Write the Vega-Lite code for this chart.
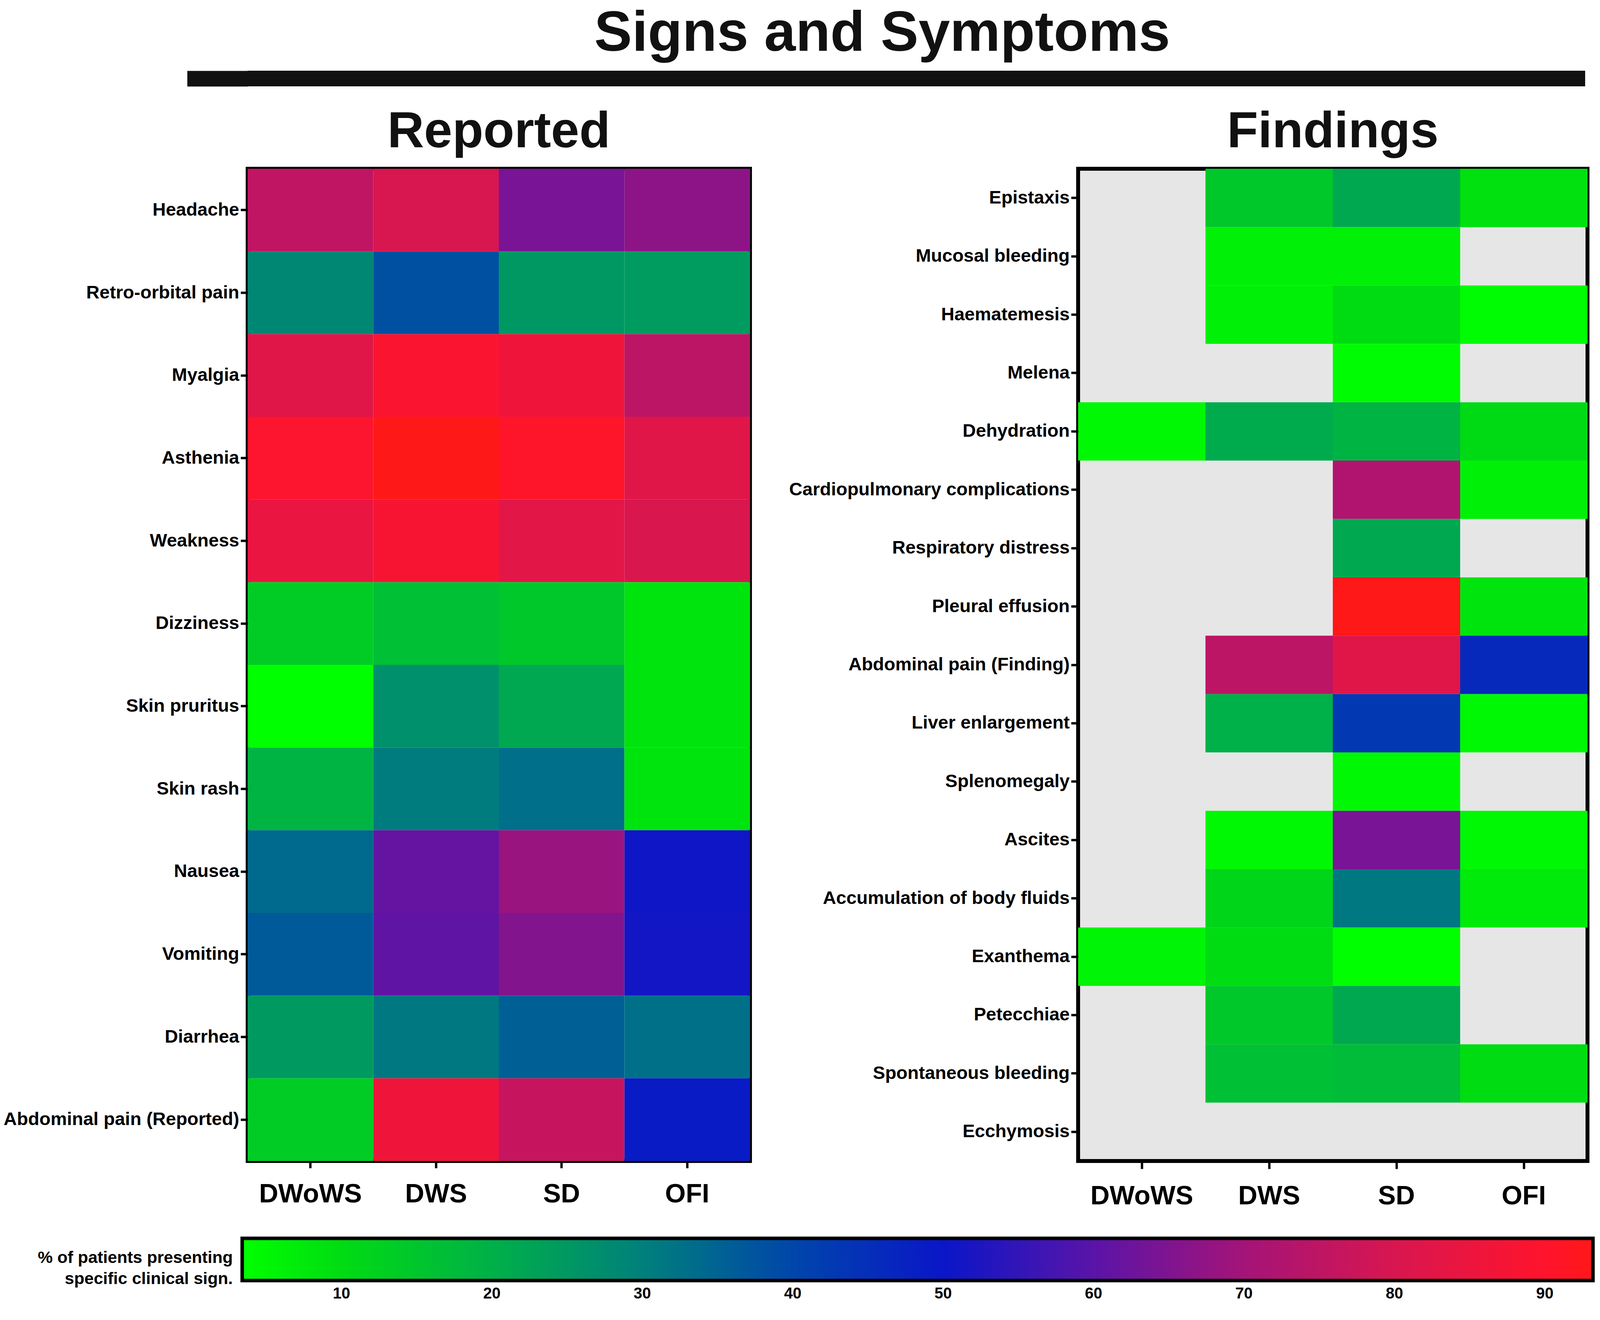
{
  "$schema": "https://vega.github.io/schema/vega-lite/v6.json",
  "padding": {"left": 3, "top": 14, "right": 5, "bottom": 5},
  "background": "white",
  "config": {
    "font": "Liberation Sans",
    "view": {"stroke": "black", "strokeWidth": 10},
    "axis": {"labelFont": "Liberation Sans", "labelFontWeight": "bold", "labelColor": "black", "tickColor": "black", "tickWidth": 6, "domain": false, "grid": false, "title": null, "labelLimit": 2000}
  },
  "datasets": {
    "reported": [
      {"sign": "Headache", "group": "DWoWS", "value": 75.4},
      {"sign": "Headache", "group": "DWS", "value": 80},
      {"sign": "Headache", "group": "SD", "value": 64},
      {"sign": "Headache", "group": "OFI", "value": 66.8},
      {"sign": "Retro-orbital pain", "group": "DWoWS", "value": 28.5},
      {"sign": "Retro-orbital pain", "group": "DWS", "value": 38.3},
      {"sign": "Retro-orbital pain", "group": "SD", "value": 25},
      {"sign": "Retro-orbital pain", "group": "OFI", "value": 24.4},
      {"sign": "Myalgia", "group": "DWoWS", "value": 82},
      {"sign": "Myalgia", "group": "DWS", "value": 89},
      {"sign": "Myalgia", "group": "SD", "value": 86},
      {"sign": "Myalgia", "group": "OFI", "value": 74.6},
      {"sign": "Asthenia", "group": "DWoWS", "value": 89.5},
      {"sign": "Asthenia", "group": "DWS", "value": 93.2},
      {"sign": "Asthenia", "group": "SD", "value": 90.5},
      {"sign": "Asthenia", "group": "OFI", "value": 82},
      {"sign": "Weakness", "group": "DWoWS", "value": 84.5},
      {"sign": "Weakness", "group": "DWS", "value": 88},
      {"sign": "Weakness", "group": "SD", "value": 82.5},
      {"sign": "Weakness", "group": "OFI", "value": 80.5},
      {"sign": "Dizziness", "group": "DWoWS", "value": 13.6},
      {"sign": "Dizziness", "group": "DWS", "value": 16.4},
      {"sign": "Dizziness", "group": "SD", "value": 14.5},
      {"sign": "Dizziness", "group": "OFI", "value": 8.5},
      {"sign": "Skin pruritus", "group": "DWoWS", "value": 3.4},
      {"sign": "Skin pruritus", "group": "DWS", "value": 26.7},
      {"sign": "Skin pruritus", "group": "SD", "value": 21.7},
      {"sign": "Skin pruritus", "group": "OFI", "value": 8.5},
      {"sign": "Skin rash", "group": "DWoWS", "value": 19},
      {"sign": "Skin rash", "group": "DWS", "value": 30.7},
      {"sign": "Skin rash", "group": "SD", "value": 33},
      {"sign": "Skin rash", "group": "OFI", "value": 8.5},
      {"sign": "Nausea", "group": "DWoWS", "value": 34},
      {"sign": "Nausea", "group": "DWS", "value": 61.4},
      {"sign": "Nausea", "group": "SD", "value": 68.6},
      {"sign": "Nausea", "group": "OFI", "value": 50.5},
      {"sign": "Vomiting", "group": "DWoWS", "value": 36.6},
      {"sign": "Vomiting", "group": "DWS", "value": 60.8},
      {"sign": "Vomiting", "group": "SD", "value": 65.4},
      {"sign": "Vomiting", "group": "OFI", "value": 51},
      {"sign": "Diarrhea", "group": "DWoWS", "value": 24.6},
      {"sign": "Diarrhea", "group": "DWS", "value": 31.4},
      {"sign": "Diarrhea", "group": "SD", "value": 35.5},
      {"sign": "Diarrhea", "group": "OFI", "value": 32.8},
      {"sign": "Abdominal pain (Reported)", "group": "DWoWS", "value": 13.6},
      {"sign": "Abdominal pain (Reported)", "group": "DWS", "value": 86},
      {"sign": "Abdominal pain (Reported)", "group": "SD", "value": 76.5},
      {"sign": "Abdominal pain (Reported)", "group": "OFI", "value": 49}
    ],
    "findings": [
      {"sign": "Epistaxis", "group": "DWoWS", "value": null},
      {"sign": "Epistaxis", "group": "DWS", "value": 14.5},
      {"sign": "Epistaxis", "group": "SD", "value": 21.5},
      {"sign": "Epistaxis", "group": "OFI", "value": 9},
      {"sign": "Mucosal bleeding", "group": "DWoWS", "value": null},
      {"sign": "Mucosal bleeding", "group": "DWS", "value": 6},
      {"sign": "Mucosal bleeding", "group": "SD", "value": 6.3},
      {"sign": "Mucosal bleeding", "group": "OFI", "value": null},
      {"sign": "Haematemesis", "group": "DWoWS", "value": null},
      {"sign": "Haematemesis", "group": "DWS", "value": 6},
      {"sign": "Haematemesis", "group": "SD", "value": 10},
      {"sign": "Haematemesis", "group": "OFI", "value": 4},
      {"sign": "Melena", "group": "DWoWS", "value": null},
      {"sign": "Melena", "group": "DWS", "value": null},
      {"sign": "Melena", "group": "SD", "value": 4},
      {"sign": "Melena", "group": "OFI", "value": null},
      {"sign": "Dehydration", "group": "DWoWS", "value": 4.8},
      {"sign": "Dehydration", "group": "DWS", "value": 21},
      {"sign": "Dehydration", "group": "SD", "value": 19},
      {"sign": "Dehydration", "group": "OFI", "value": 10.5},
      {"sign": "Cardiopulmonary complications", "group": "DWoWS", "value": null},
      {"sign": "Cardiopulmonary complications", "group": "DWS", "value": null},
      {"sign": "Cardiopulmonary complications", "group": "SD", "value": 72.3},
      {"sign": "Cardiopulmonary complications", "group": "OFI", "value": 6},
      {"sign": "Respiratory distress", "group": "DWoWS", "value": null},
      {"sign": "Respiratory distress", "group": "DWS", "value": null},
      {"sign": "Respiratory distress", "group": "SD", "value": 21.5},
      {"sign": "Respiratory distress", "group": "OFI", "value": null},
      {"sign": "Pleural effusion", "group": "DWoWS", "value": null},
      {"sign": "Pleural effusion", "group": "DWS", "value": null},
      {"sign": "Pleural effusion", "group": "SD", "value": 93.2},
      {"sign": "Pleural effusion", "group": "OFI", "value": 8.5},
      {"sign": "Abdominal pain (Finding)", "group": "DWoWS", "value": null},
      {"sign": "Abdominal pain (Finding)", "group": "DWS", "value": 74.6},
      {"sign": "Abdominal pain (Finding)", "group": "SD", "value": 82},
      {"sign": "Abdominal pain (Finding)", "group": "OFI", "value": 46},
      {"sign": "Liver enlargement", "group": "DWoWS", "value": null},
      {"sign": "Liver enlargement", "group": "DWS", "value": 20},
      {"sign": "Liver enlargement", "group": "SD", "value": 43},
      {"sign": "Liver enlargement", "group": "OFI", "value": 4.8},
      {"sign": "Splenomegaly", "group": "DWoWS", "value": null},
      {"sign": "Splenomegaly", "group": "DWS", "value": null},
      {"sign": "Splenomegaly", "group": "SD", "value": 4.8},
      {"sign": "Splenomegaly", "group": "OFI", "value": null},
      {"sign": "Ascites", "group": "DWoWS", "value": null},
      {"sign": "Ascites", "group": "DWS", "value": 4.8},
      {"sign": "Ascites", "group": "SD", "value": 64},
      {"sign": "Ascites", "group": "OFI", "value": 4.8},
      {"sign": "Accumulation of body fluids", "group": "DWoWS", "value": null},
      {"sign": "Accumulation of body fluids", "group": "DWS", "value": 11.5},
      {"sign": "Accumulation of body fluids", "group": "SD", "value": 31.4},
      {"sign": "Accumulation of body fluids", "group": "OFI", "value": 7.2},
      {"sign": "Exanthema", "group": "DWoWS", "value": 5.4},
      {"sign": "Exanthema", "group": "DWS", "value": 10},
      {"sign": "Exanthema", "group": "SD", "value": 3.4},
      {"sign": "Exanthema", "group": "OFI", "value": null},
      {"sign": "Petecchiae", "group": "DWoWS", "value": null},
      {"sign": "Petecchiae", "group": "DWS", "value": 14.5},
      {"sign": "Petecchiae", "group": "SD", "value": 21.5},
      {"sign": "Petecchiae", "group": "OFI", "value": null},
      {"sign": "Spontaneous bleeding", "group": "DWoWS", "value": null},
      {"sign": "Spontaneous bleeding", "group": "DWS", "value": 16.4},
      {"sign": "Spontaneous bleeding", "group": "SD", "value": 17.3},
      {"sign": "Spontaneous bleeding", "group": "OFI", "value": 10},
      {"sign": "Ecchymosis", "group": "DWoWS", "value": null},
      {"sign": "Ecchymosis", "group": "DWS", "value": null},
      {"sign": "Ecchymosis", "group": "SD", "value": null},
      {"sign": "Ecchymosis", "group": "OFI", "value": null}
    ]
  },
  "vconcat": [
    {
      "width": 3424, "height": 40,
      "data": {"values": [{}]},
      "mark": {"type": "rect", "color": "#111111"},
      "encoding": {
        "y": {"datum": "line", "type": "nominal", "scale": {"paddingInner": 0, "paddingOuter": 0},
              "axis": {"labels": false, "domain": false, "ticks": true, "tickSize": 155, "tickWidth": 40, "tickColor": "#111111", "tickCap": "butt"}}
      },
      "view": {"stroke": null, "fill": "#111111"},
      "title": {"text": "Signs and Symptoms", "font": "Liberation Sans", "fontSize": 145, "fontWeight": "bold", "color": "#111111", "anchor": "middle", "frame": "bounds", "baseline": "alphabetic", "offset": -94}
    },
    {
      "hconcat": [
        {
          "width": 1286, "height": 2540,
          "data": {"name": "reported"},
          "title": {"text": "Reported", "font": "Liberation Sans", "fontSize": 130, "fontWeight": "bold", "color": "#111111", "anchor": "middle", "frame": "group", "baseline": "alphabetic", "offset": -75},
          "mark": {"type": "rect"},
          "encoding": {
            "x": {"field": "group", "type": "nominal", "scale": {"domain": ["DWoWS", "DWS", "SD", "OFI"], "paddingInner": 0, "paddingOuter": 0},
                  "axis": {"orient": "bottom", "labelAngle": 0, "labelFontSize": 68, "tickSize": 18, "labelPadding": 33}},
            "y": {"field": "sign", "type": "nominal",
                  "scale": {"domain": ["Headache", "Retro-orbital pain", "Myalgia", "Asthenia", "Weakness", "Dizziness", "Skin pruritus", "Skin rash", "Nausea", "Vomiting", "Diarrhea", "Abdominal pain (Reported)"], "paddingInner": 0, "paddingOuter": 0},
                  "axis": {"labelFontSize": 47, "tickSize": 18, "labelPadding": 4,
                           "labelExpr": "indexof(['Myalgia','Dizziness','Nausea','Vomiting','Diarrhea','Abdominal pain (Reported)'], datum.value) >= 0 ? datum.value + '\u00a0' : datum.value"}},
            "color": {
              "condition": {"test": "!isValid(datum.value)", "value": "#e6e6e6"},
              "field": "value", "type": "quantitative",
              "scale": {"domain": [3.4, 10, 20, 30, 40, 50, 60, 70, 80, 90, 93.2],
                        "range": ["#00ff00", "#00dc12", "#00b048", "#00807c", "#0046aa", "#0a16c8", "#5a14a8", "#a41478", "#d81650", "#ff142c", "#ff1818"],
                        "interpolate": "rgb"},
              "legend": {
                "orient": "none", "legendX": -537, "legendY": 2989, "direction": "horizontal", "padding": 0,
                "gradientLength": 3458, "gradientThickness": 108, "gradientStrokeColor": "black", "gradientStrokeWidth": 9,
                "title": ["% of patients presenting", "specific clinical sign."],
                "titleOrient": "left", "titleFont": "Liberation Sans", "titleFontSize": 43, "titleFontWeight": "bold", "titleColor": "black",
                "titleAlign": "right", "titleLineHeight": 54, "titlePadding": -476, "titleBaseline": "top", "titleLimit": 2000,
                "values": [10, 20, 30, 40, 50, 60, 70, 80, 90],
                "labelFont": "Liberation Sans", "labelFontSize": 40, "labelFontWeight": "bold", "labelColor": "black", "labelOffset": 14, "labelOverlap": false
              }
            }
          }
        },
        {
          "width": 1304, "height": 2540,
          "data": {"name": "findings"},
          "view": {"fill": "#e6e6e6"},
          "title": {"text": "Findings", "font": "Liberation Sans", "fontSize": 130, "fontWeight": "bold", "color": "#111111", "anchor": "middle", "frame": "group", "baseline": "alphabetic", "offset": -75},
          "mark": {"type": "rect"},
          "encoding": {
            "x": {"field": "group", "type": "nominal", "scale": {"domain": ["DWoWS", "DWS", "SD", "OFI"], "paddingInner": 0, "paddingOuter": 0},
                  "axis": {"orient": "bottom", "labelAngle": 0, "labelFontSize": 68, "tickSize": 20, "labelPadding": 36}},
            "y": {"field": "sign", "type": "nominal",
                  "scale": {"domain": ["Epistaxis", "Mucosal bleeding", "Haematemesis", "Melena", "Dehydration", "Cardiopulmonary complications", "Respiratory distress", "Pleural effusion", "Abdominal pain (Finding)", "Liver enlargement", "Splenomegaly", "Ascites", "Accumulation of body fluids", "Exanthema", "Petecchiae", "Spontaneous bleeding", "Ecchymosis"], "paddingInner": 0, "paddingOuter": 0},
                  "axis": {"labelFontSize": 47, "tickSize": 18, "labelPadding": 4}},
            "color": {
              "condition": {"test": "!isValid(datum.value)", "value": "#e6e6e6"},
              "field": "value", "type": "quantitative"
            }
          }
        }
      ],
      "spacing": 89
    }
  ],
  "spacing": 47
}
